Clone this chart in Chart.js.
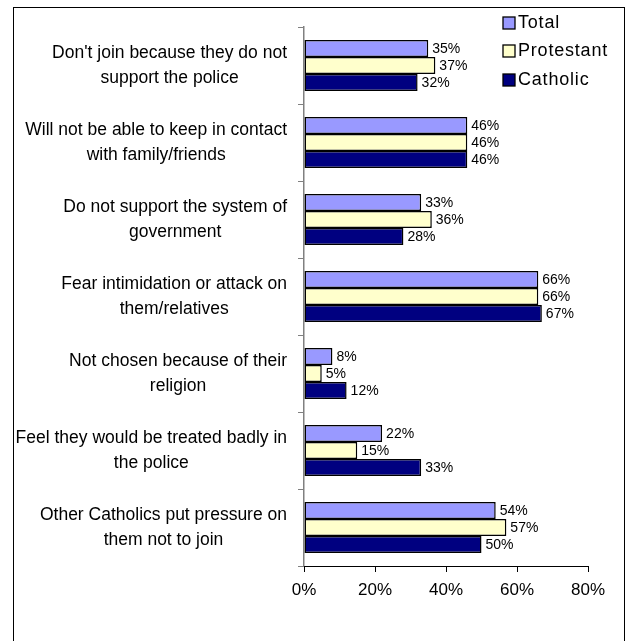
<!DOCTYPE html>
<html>
<head>
<meta charset="utf-8">
<script src="https://cdn.jsdelivr.net/npm/chart.js@4/dist/chart.umd.min.js"></script>
<style>
  html, body { margin: 0; padding: 0; background: #fff; }
  #wrap { position: absolute; left: 0; top: 0; width: 632px; height: 641px; }
</style>
</head>
<body>
<div id="wrap"><canvas id="chart" width="632" height="641"></canvas></div>
<script>
// Chart data
const categories = [
  ["Don't join because they do not", "support the police"],
  ["Will not be able to keep in contact", "with family/friends"],
  ["Do not support the system of", "government"],
  ["Fear intimidation or attack on", "them/relatives"],
  ["Not chosen because of their", "religion"],
  ["Feel they would be treated badly in", "the police"],
  ["Other Catholics put pressure on", "them not to join"]
];
const seriesNames = ['Total', 'Protestant', 'Catholic'];
const totalValues = [35, 46, 33, 66, 8, 22, 54];
const protestantValues = [37, 46, 36, 66, 5, 15, 57];
const catholicValues = [32, 46, 28, 67, 12, 33, 50];
const xTicks = [0, 20, 40, 60, 80];

const seriesColors = ['#9999FF', '#FFFFCC', '#000080'];

/**
 * Frame round the whole chart
 */
const framePlugin = {
  id: 'frame',
  beforeDraw(chart) {
    const ctx = chart.ctx;
    ctx.save();
    ctx.fillStyle = '#fff';
    ctx.fillRect(0, 0, chart.width, chart.height);
    ctx.strokeStyle = '#000';
    ctx.lineWidth = 1;
    ctx.strokeRect(13.5, 7.5, 611, 650);
    ctx.restore();
  }
};

/**
 * Category labels: block right-aligned, lines centred in the block
 */
const categoryLabelPlugin = {
  id: 'categoryLabels',
  afterDraw(chart) {
    const ctx = chart.ctx;
    const yScale = chart.scales.y;
    const right = yScale.right - 17;
    ctx.save();
    ctx.font = '17.5px Arial, "Liberation Sans", sans-serif';
    ctx.fillStyle = '#000';
    ctx.textAlign = 'center';
    ctx.textBaseline = 'middle';
    categories.forEach((lines, i) => {
      const y = yScale.getPixelForTick(i);
      const blockWidth = Math.max(...lines.map(l => ctx.measureText(l).width));
      const cx = right - blockWidth / 2;
      const lineHeight = 25;
      const top = y - (lines.length - 1) * lineHeight / 2;
      lines.forEach((line, j) => {
        ctx.fillText(line, cx, top + j * lineHeight);
      });
    });
    ctx.restore();
  }
};

/**
 * Value labels at the end of each bar
 */
const valueLabelPlugin = {
  id: 'valueLabels',
  afterDatasetsDraw(chart) {
    const ctx = chart.ctx;
    ctx.save();
    ctx.font = '14px Arial, "Liberation Sans", sans-serif';
    ctx.fillStyle = '#000';
    ctx.textAlign = 'left';
    ctx.textBaseline = 'middle';
    chart.data.datasets.forEach((ds, di) => {
      const meta = chart.getDatasetMeta(di);
      meta.data.forEach((bar, i) => {
        ctx.fillText(ds.data[i] + '%', bar.x + 4, bar.y + 1);
      });
    });
    ctx.restore();
  }
};

/**
 * Legend in the top right corner, over the plot
 */
const legendPlugin = {
  id: 'cornerLegend',
  afterDraw(chart) {
    const ctx = chart.ctx;
    const x = 503;
    const rows = [23, 51, 80];
    ctx.save();
    ctx.font = '18px Arial, "Liberation Sans", sans-serif';
    if ('letterSpacing' in ctx) ctx.letterSpacing = '0.8px';
    ctx.textAlign = 'left';
    ctx.textBaseline = 'middle';
    seriesNames.forEach((name, i) => {
      const y = rows[i];
      ctx.fillStyle = seriesColors[i];
      ctx.fillRect(x, y - 6, 12, 12);
      ctx.strokeStyle = '#000';
      ctx.lineWidth = 1.3;
      ctx.strokeRect(x, y - 6, 12, 12);
      ctx.fillStyle = '#000';
      ctx.fillText(name, x + 15, y);
    });
    ctx.restore();
  }
};

new Chart(document.getElementById('chart'), {
  type: 'bar',
  data: {
    labels: categories,
    datasets: [
      { label: seriesNames[0], data: totalValues, backgroundColor: seriesColors[0] },
      { label: seriesNames[1], data: protestantValues, backgroundColor: seriesColors[1] },
      { label: seriesNames[2], data: catholicValues, backgroundColor: seriesColors[2] }
    ].map(ds => Object.assign(ds, {
      borderColor: '#000',
      borderWidth: 1.5,
      borderSkipped: false,
      categoryPercentage: 0.66,
      barPercentage: 1
    }))
  },
  options: {
    responsive: false,
    animation: false,
    indexAxis: 'y',
    devicePixelRatio: 1,
    layout: { padding: { top: 27, right: 44, left: 0, bottom: 0 } },
    plugins: {
      legend: { display: false },
      tooltip: { enabled: false }
    },
    scales: {
      y: {
        offset: true,
        afterFit(scale) { scale.width = 304; },
        ticks: { display: false },
        grid: {
          offset: true,
          drawOnChartArea: false,
          drawTicks: true,
          tickLength: 6,
          color: '#808080',
          lineWidth: 1
        },
        border: { color: '#808080', width: 1.5 }
      },
      x: {
        min: 0,
        max: 80,
        afterFit(scale) { scale.height = 75; },
        afterBuildTicks(scale) { scale.ticks = xTicks.map(v => ({ value: v })); },
        ticks: {
          callback: v => v + '%',
          font: { family: 'Arial, "Liberation Sans", sans-serif', size: 17 },
          color: '#000',
          padding: 8,
          maxRotation: 0
        },
        grid: {
          drawOnChartArea: false,
          drawTicks: true,
          tickLength: 6,
          color: '#000'
        },
        border: { color: '#000', width: 1 }
      }
    }
  },
  plugins: [framePlugin, categoryLabelPlugin, valueLabelPlugin, legendPlugin]
});
</script>
</body>
</html>
